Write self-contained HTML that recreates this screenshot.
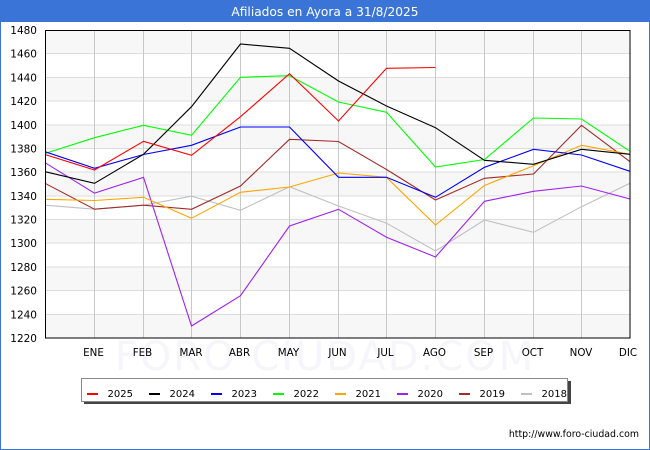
<!DOCTYPE html>
<html><head><meta charset="utf-8"><style>
html,body{margin:0;padding:0;background:#fff;}
body{width:650px;height:450px;overflow:hidden;}
svg{display:block;}
text{font-family:"DejaVu Sans","Liberation Sans",sans-serif;}
</style></head><body>
<svg width="650" height="450" viewBox="0 0 650 450" xmlns="http://www.w3.org/2000/svg">
<rect x="0" y="0" width="650" height="450" fill="#ffffff"/>
<!-- outer border -->
<rect x="0.5" y="0.5" width="649" height="449" fill="none" stroke="#3a74d6" stroke-width="1"/>
<rect x="0" y="0" width="650" height="22" fill="#3a74d6"/>
<text x="325" y="16" font-size="12.2" fill="#ffffff" text-anchor="middle">Afiliados en Ayora a 31/8/2025</text>

<!-- stripes -->
<g fill="#f7f7f7">
<rect x="45" y="30" width="585" height="23.7"/>
<rect x="45" y="77.4" width="585" height="23.7"/>
<rect x="45" y="124.8" width="585" height="23.7"/>
<rect x="45" y="172.2" width="585" height="23.6"/>
<rect x="45" y="219.5" width="585" height="23.7"/>
<rect x="45" y="266.9" width="585" height="23.7"/>
<rect x="45" y="314.3" width="585" height="23.7"/>
</g>
<!-- watermark -->
<text x="325" y="370" font-size="40" fill="#f5f5fb" text-anchor="middle" letter-spacing="2">FORO CIUDAD.COM</text>
<!-- horizontal grid -->
<g stroke="#dddddd" stroke-width="1" shape-rendering="crispEdges">
<line x1="45" x2="630" y1="53.7" y2="53.7"/>
<line x1="45" x2="630" y1="77.4" y2="77.4"/>
<line x1="45" x2="630" y1="101.1" y2="101.1"/>
<line x1="45" x2="630" y1="124.8" y2="124.8"/>
<line x1="45" x2="630" y1="148.5" y2="148.5"/>
<line x1="45" x2="630" y1="172.2" y2="172.2"/>
<line x1="45" x2="630" y1="195.8" y2="195.8"/>
<line x1="45" x2="630" y1="219.5" y2="219.5"/>
<line x1="45" x2="630" y1="243.2" y2="243.2"/>
<line x1="45" x2="630" y1="266.9" y2="266.9"/>
<line x1="45" x2="630" y1="290.6" y2="290.6"/>
<line x1="45" x2="630" y1="314.3" y2="314.3"/>
</g>
<!-- vertical grid -->
<g stroke="#c8c8c8" stroke-width="1">
<line x1="94.5" x2="94.5" y1="30" y2="338"/>
<line x1="143.5" x2="143.5" y1="30" y2="338"/>
<line x1="191.5" x2="191.5" y1="30" y2="338"/>
<line x1="240.5" x2="240.5" y1="30" y2="338"/>
<line x1="289.5" x2="289.5" y1="30" y2="338"/>
<line x1="338.5" x2="338.5" y1="30" y2="338"/>
<line x1="386.5" x2="386.5" y1="30" y2="338"/>
<line x1="435.5" x2="435.5" y1="30" y2="338"/>
<line x1="484.5" x2="484.5" y1="30" y2="338"/>
<line x1="533.5" x2="533.5" y1="30" y2="338"/>
<line x1="581.5" x2="581.5" y1="30" y2="338"/>
</g>

<!-- series -->
<g fill="none" stroke-width="1.1" stroke-linejoin="miter">
<polyline stroke="#c0c0c0" points="45,205.2 94.5,209.2 143.5,205.2 191.5,196.2 240.5,210.3 289.5,186.7 338.5,206 386.5,223.2 435.5,251 484.5,220 533.5,232.3 581.5,206.7 630,183.3"/>
<polyline stroke="#a52a2a" points="45,183.3 94.5,209.2 143.5,205.2 191.5,209.3 240.5,186 289.5,139.3 338.5,141.5 386.5,169.5 435.5,200 484.5,178.3 533.5,174 581.5,125.3 630,161.7"/>
<polyline stroke="#a020f0" points="45,162.7 94.5,193.2 143.5,177.3 191.5,326 240.5,295.7 289.5,226 338.5,209.3 386.5,237.2 435.5,257 484.5,201.3 533.5,191.3 581.5,186 630,199"/>
<polyline stroke="#ffa500" points="45,199.3 94.5,200.5 143.5,197.3 191.5,218.3 240.5,192.3 289.5,187 338.5,173 386.5,177.3 435.5,225 484.5,185.5 533.5,165.7 581.5,145.3 630,154.3"/>
<polyline stroke="#00ff00" points="45,153.5 94.5,137.7 143.5,125.3 191.5,135.3 240.5,77.3 289.5,75.7 338.5,102 386.5,112.3 435.5,167 484.5,159.5 533.5,118 581.5,119 630,151.3"/>
<polyline stroke="#0000ff" points="45,151.7 94.5,168.3 143.5,154.5 191.5,145.3 240.5,127 289.5,127 338.5,177.3 386.5,177.3 435.5,197.3 484.5,167.3 533.5,149.3 581.5,155 630,171.3"/>
<polyline stroke="#000000" points="45,171.7 94.5,183.3 143.5,154.3 191.5,106.7 240.5,44 289.5,48.3 338.5,81 386.5,106 435.5,127.7 484.5,160.3 533.5,164.3 581.5,149.3 630,154.3"/>
<polyline stroke="#ff0000" points="45,154.5 94.5,170 143.5,141.3 191.5,155.3 240.5,116.7 289.5,73.7 338.5,121 386.5,68.3 435.5,67.5"/>
</g>

<!-- plot border -->
<rect x="45.5" y="30.5" width="584.5" height="307.5" fill="none" stroke="#000" stroke-width="1"/>

<!-- y labels -->
<g font-size="10.5" fill="#000" text-anchor="end">
<text x="37" y="34">1480</text>
<text x="37" y="57.7">1460</text>
<text x="37" y="81.4">1440</text>
<text x="37" y="105.1">1420</text>
<text x="37" y="128.8">1400</text>
<text x="37" y="152.5">1380</text>
<text x="37" y="176.2">1360</text>
<text x="37" y="199.8">1340</text>
<text x="37" y="223.5">1320</text>
<text x="37" y="247.2">1300</text>
<text x="37" y="270.9">1280</text>
<text x="37" y="294.6">1260</text>
<text x="37" y="318.3">1240</text>
<text x="37" y="342">1220</text>
</g>
<!-- x labels -->
<g font-size="10.3" fill="#000" text-anchor="middle">
<text x="93.5" y="356">ENE</text>
<text x="142.5" y="356">FEB</text>
<text x="191" y="356">MAR</text>
<text x="239.5" y="356">ABR</text>
<text x="288.5" y="356">MAY</text>
<text x="337.5" y="356">JUN</text>
<text x="385.5" y="356">JUL</text>
<text x="434.5" y="356">AGO</text>
<text x="483.5" y="356">SEP</text>
<text x="532.5" y="356">OCT</text>
<text x="581" y="356">NOV</text>
<text x="628" y="356">DIC</text>
</g>

<!-- legend -->
<rect x="84" y="381" width="487" height="23" fill="#444"/>
<rect x="81.5" y="378.5" width="486" height="23" fill="#fff" stroke="#888" stroke-width="1"/>
<g stroke-width="2">
<line x1="87" x2="98" y1="394" y2="394" stroke="#ff0000"/>
<line x1="149" x2="160" y1="394" y2="394" stroke="#000000"/>
<line x1="211" x2="222" y1="394" y2="394" stroke="#0000ff"/>
<line x1="273" x2="284" y1="394" y2="394" stroke="#00ff00"/>
<line x1="335" x2="346" y1="394" y2="394" stroke="#ffa500"/>
<line x1="397" x2="408" y1="394" y2="394" stroke="#a020f0"/>
<line x1="459" x2="470" y1="394" y2="394" stroke="#a52a2a"/>
<line x1="521" x2="532" y1="394" y2="394" stroke="#c0c0c0"/>
</g>
<g font-size="10" fill="#000">
<text x="107.5" y="397">2025</text>
<text x="169.5" y="397">2024</text>
<text x="231.5" y="397">2023</text>
<text x="293.5" y="397">2022</text>
<text x="355.5" y="397">2021</text>
<text x="417.5" y="397">2020</text>
<text x="479.5" y="397">2019</text>
<text x="541.5" y="397">2018</text>
</g>

<text x="639" y="437" font-size="9.4" fill="#000" text-anchor="end">http://www.foro-ciudad.com</text>
</svg>
</body></html>
